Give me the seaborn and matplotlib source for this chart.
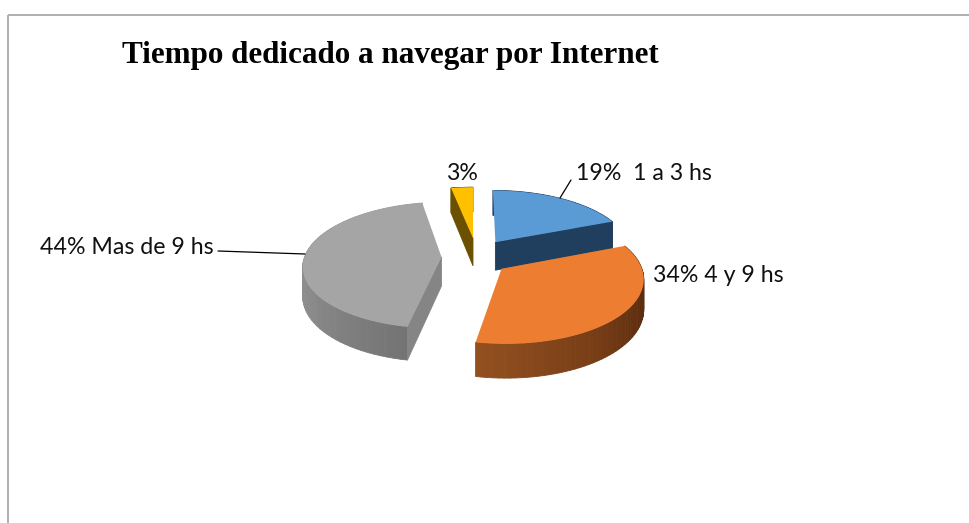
import numpy as np
import matplotlib
matplotlib.use("Agg")
import matplotlib.pyplot as plt
from matplotlib.transforms import Transform
from matplotlib.patches import Rectangle
import seaborn as sns

# ---- data ----
title = "Tiempo dedicado a navegar por Internet"
categories = ["1 a 3 hs", "4 y 9 hs", "Mas de 9 hs", "Menos de 1 h"]
values = [19, 34, 44, 3]
labels = ["19%  1 a 3 hs", "34% 4 y 9 hs", "44% Mas de 9 hs", "3%"]
explode = [0.30, 0.29, 0.23, 0.32]

# ---- style ----
top_colors = ["#5B9BD5", "#ED7D31", "#A5A5A5", "#FFC000"]
wall_colors = [["#1F3D5C", "#1F3D5C"],
               ["#92501F", "#7A3F17", "#5C2D0F", "#5C2D0F"],
               ["#A0A0A0", "#939393", "#8C8C8C", "#747474"],
               ["#6B5000", "#6B5000"]]
face_colors = ["#203E5E", "#5C2D0F", "#858585", "#6B5000"]
visible_face = [0, None, -1, -1]     # which cut face of each slice can be seen
nudge_x = [0.0, -0.02, 0.0, 0.03]    # small sideways placement corrections
paint_rank = [1, 3, 2, 0]

sns.set_theme(style="white")
plt.rcParams["font.family"] = ["Lato", "DejaVu Sans"]

W, H = 970, 523
CX, CY = 473, 257      # centre of the pie on the canvas
RX, RY = 137, 62       # horizontal and vertical scale of the tilted disc
PERSP = 0.13           # perspective strength
DEPTH = 29             # extrusion height


class Tilted(Transform):
    input_dims = 2
    output_dims = 2

    def __init__(self, z=0.0):
        super().__init__()
        self.z = z

    def transform_non_affine(self, values):
        v = np.asarray(values, dtype=float)
        w = 1 + PERSP * v[:, 1]
        return np.column_stack([CX + RX * v[:, 0] / w,
                                CY + (-RY * v[:, 1] + DEPTH * self.z) / w])


fig = plt.figure(figsize=(W / 100, H / 100), dpi=100)
ax = fig.add_axes([0, 0, 1, 1])

wedges, _ = ax.pie(values, explode=explode, colors=top_colors, startangle=90,
                   counterclock=False, wedgeprops={"linewidth": 0})
ax.set_aspect("auto")
ax.set_xlim(0, W)
ax.set_ylim(H, 0)
ax.axis("off")

top_plane, bottom_plane = Tilted(0.0), Tilted(1.0)


def lift(xy):
    return top_plane.transform_non_affine(xy), bottom_plane.transform_non_affine(xy)


for i, wedge in enumerate(wedges):
    base = paint_rank[i] * 10 + 5
    c = np.array(wedge.center) + [nudge_x[i], 0.0]
    wedge.set_center(tuple(c))
    angles = np.radians(np.linspace(wedge.theta1, wedge.theta2, 61))
    rim = c + np.column_stack([np.cos(angles), np.sin(angles)])
    rim_top, rim_bot = lift(rim)

    # curved outer wall, built of thin strips to get the shading
    shades = sns.blend_palette(wall_colors[i], len(angles) - 1)
    for j, shade in enumerate(shades):
        quad = np.vstack([rim_top[j], rim_top[j + 1], rim_bot[j + 1], rim_bot[j]])
        ax.fill(quad[:, 0], quad[:, 1], color=shade, lw=0.6, zorder=base)

    # flat cut face
    if visible_face[i] is not None:
        k = visible_face[i]
        centre_top, centre_bot = lift(c[None, :])
        quad = np.vstack([centre_top, rim_top[k], rim_bot[k], centre_bot])
        ax.fill(quad[:, 0], quad[:, 1], color=face_colors[i], lw=0.6, zorder=base + 1)

    # top surface
    wedge.set_transform(top_plane + ax.transData)
    wedge.set_zorder(base + 2)
    wedge.set_clip_on(False)

# frame (runs off the right and bottom edges)
ax.add_patch(Rectangle((8, 15), W + 20, H + 20, fill=False, ec="#A9A9A9", lw=1.3, zorder=60))

# leader lines
ax.plot([218, 305], [251, 254], color="black", lw=0.9, zorder=70)
ax.plot([571, 560], [180, 198], color="black", lw=0.9, zorder=70)

# text
ax.text(122, 56, title, family="Liberation Serif", weight="bold", fontsize=22.45,
        color="black", va="center", ha="left")
label_font = dict(fontsize=16.7, color="#111111", va="center")
ax.text(576, 174, labels[0], ha="left", **label_font)
ax.text(653, 276, labels[1], ha="left", **label_font)
ax.text(40, 248, labels[2], ha="left", **label_font)
ax.text(462, 174, labels[3], ha="center", **label_font)

fig.savefig("out.png", dpi=100, facecolor="white")
